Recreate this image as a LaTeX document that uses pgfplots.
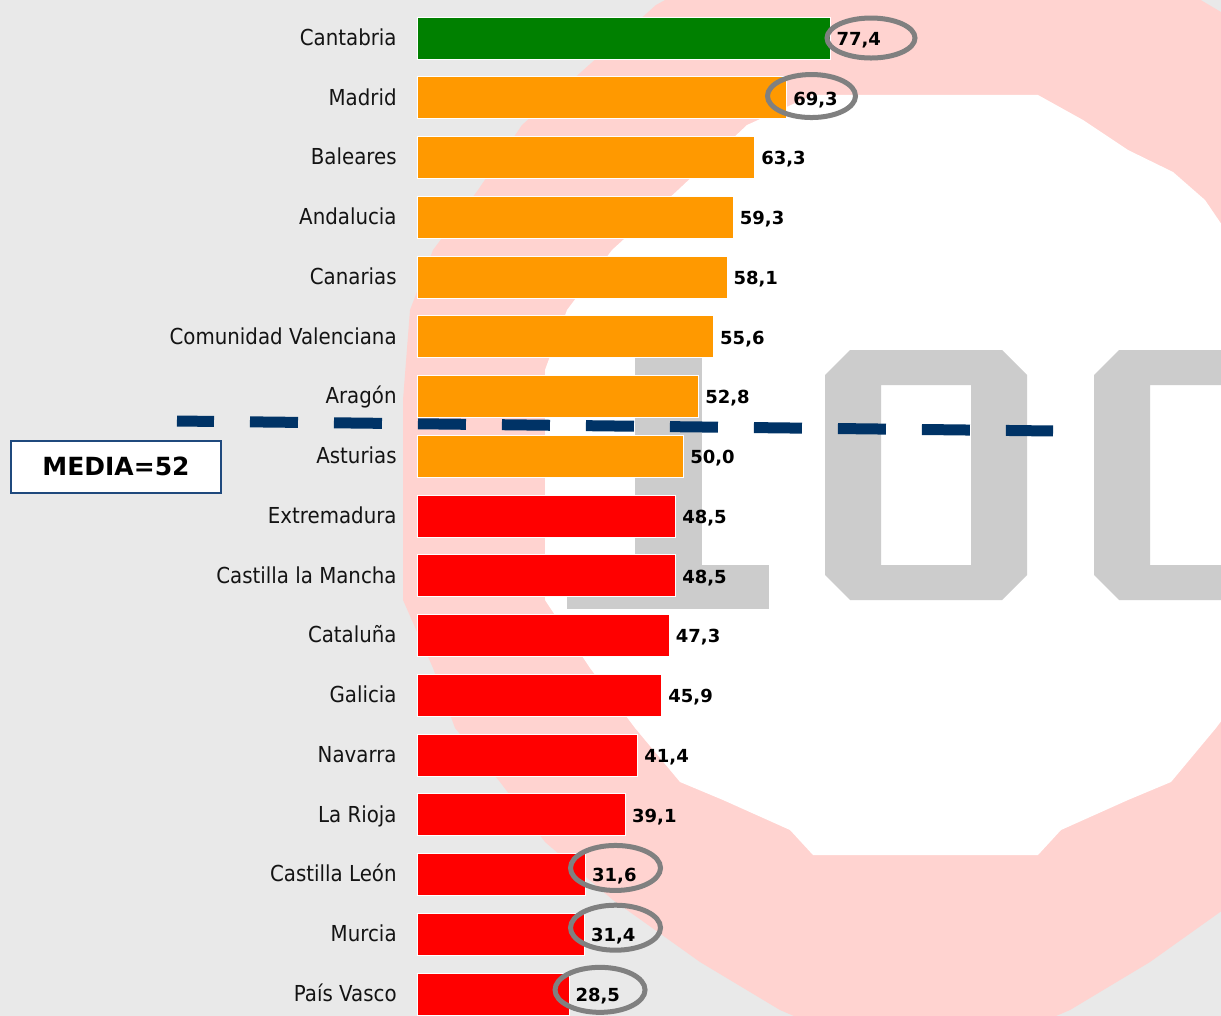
\documentclass[border=0pt]{standalone}
\usepackage{pgfplots}
\pgfplotsset{compat=1.18}
\usepackage{fontspec}
\setmainfont{DejaVu Sans}[FakeStretch=0.9]
\newfontfamily\numfont{DejaVu Sans}
\definecolor{bggray}{RGB}{233,233,233}
\definecolor{wmpink}{RGB}{255,211,208}
\definecolor{wmgray}{RGB}{204,204,204}
\definecolor{bargreen}{RGB}{0,128,0}
\definecolor{barorange}{RGB}{255,153,0}
\definecolor{barred}{RGB}{255,0,0}
\definecolor{navy}{RGB}{0,51,102}
\definecolor{boxblue}{RGB}{31,73,125}
\definecolor{ellgray}{RGB}{128,128,128}
\pgfplotsset{
  mybar/.style={
    xbar, bar width=0.703, bar shift=0pt, draw=white, line width=0.5pt,
    point meta=x,
    nodes near coords={\pgfmathprintnumber[fixed,fixed zerofill,precision=1,use comma,assume math mode=true]{\pgfplotspointmeta}},
    nodes near coords align=horizontal,
    every node near coord/.append style={font=\numfont\bfseries\fontsize{9pt}{11pt}\selectfont,
      anchor=west, inner sep=0pt, xshift=3pt, text height=0.95em, text depth=0.221em, text=black},
  }
}
\begin{document}
\begin{tikzpicture}
\useasboundingbox (0,0) rectangle (610.5pt,-508pt);
\begin{scope}[x=0.5pt,y=-0.5pt]
  \fill[bggray] (0,0) rectangle (1221,1016);
  \fill[wmpink] (720,-30)--(656,5)--(589,65)--(522,125)--(478,190)--(433,250)--(410,310)--(403,400)--(403,600)--(433,668)--(455,728)--(500,782)--(545,842)--(613,900)--(700,962)--(780,1010)--(850,1040)--(1000,1040)--(1070,1010)--(1150,962)--(1237,900)--(1400,700)--(1400,300)--(1300,60)--(1221,12)--(1150,-30)--cycle;
  \fill[white] (813,95)--(1038,95)--(1083,120)--(1128,150)--(1173,172)--(1205,200)--(1239,250)--(1284,310)--(1306,370)--(1306,600)--(1261,668)--(1216,728)--(1171,782)--(1128,800)--(1061,830)--(1038,855)--(813,855)--(790,830)--(723,800)--(680,782)--(635,728)--(590,668)--(545,600)--(545,370)--(567,310)--(612,250)--(678,190)--(747,125)--cycle;
  \fill[wmgray] (635,358) rectangle (702,565);
  \fill[wmgray] (567,565) rectangle (769,609);
  \foreach \o in {0,269}{
    \fill[wmgray,even odd rule] (825+\o,375)--(850+\o,350)--(1002+\o,350)--(1027+\o,375)--(1027+\o,575)--(1002+\o,600)--(850+\o,600)--(825+\o,575)--cycle
      (881+\o,385) rectangle (971+\o,565);
  }
\end{scope}
\begin{axis}[
  at={(208.5pt,0pt)}, anchor=north west,
  scale only axis, width=402pt, height=508pt,
  xmin=0, xmax=150.67,
  ymin=-0.636, ymax=16.368, y dir=reverse,
  axis line style={draw=none},
  xtick=\empty,
  ytick={0,...,16},
  yticklabels={Cantabria,Madrid,Baleares,Andalucia,Canarias,Comunidad Valenciana,Aragón,Asturias,Extremadura,Castilla la Mancha,Cataluña,Galicia,Navarra,La Rioja,Castilla León,Murcia,País Vasco},
  major tick length=0pt,
  yticklabel style={font=\fontsize{11pt}{13pt}\selectfont, inner sep=0pt, xshift=-10pt,
    text height=0.95em, text depth=0.221em, text={rgb,255:red,20;green,20;blue,20}},
  clip=false,
]
\addplot[mybar, fill=bargreen] coordinates {(77.4,0)};
\addplot[mybar, fill=barorange] coordinates {(69.3,1) (63.3,2) (59.3,3) (58.1,4) (55.6,5) (52.8,6) (50.0,7)};
\addplot[mybar, fill=barred] coordinates {(48.5,8) (48.5,9) (47.3,10) (45.9,11) (41.4,12) (39.1,13) (31.6,14) (31.4,15) (28.5,16)};
\draw[ellgray, line width=2.5pt] (axis cs:85.08,0) ellipse [x radius=22pt, y radius=10pt];
\draw[ellgray, line width=2.5pt] (axis cs:73.93,0.971) ellipse [x radius=22pt, y radius=10.75pt];
\draw[ellgray, line width=2.5pt] (axis cs:37.2,13.89) ellipse [x radius=22.5pt, y radius=11.25pt];
\draw[ellgray, line width=2.5pt] (axis cs:37.2,14.89) ellipse [x radius=22.5pt, y radius=11.25pt];
\draw[ellgray, line width=2.5pt] (axis cs:34.3,15.93) ellipse [x radius=22.5pt, y radius=11.25pt];
\addplot[navy, line width=5.5pt, dash pattern=on 24pt off 18pt, dash phase=5.5pt, line cap=butt] coordinates {(-44.98,6.41) (119.19,6.577)};
\end{axis}
\node[draw=boxblue, line width=1pt, fill=white, minimum width=105pt, minimum height=26pt, inner sep=0pt,
  font=\numfont\bfseries\fontsize{12.5pt}{15pt}\selectfont] at (58pt,-233.3pt) {MEDIA=52};
\end{tikzpicture}
\end{document}
